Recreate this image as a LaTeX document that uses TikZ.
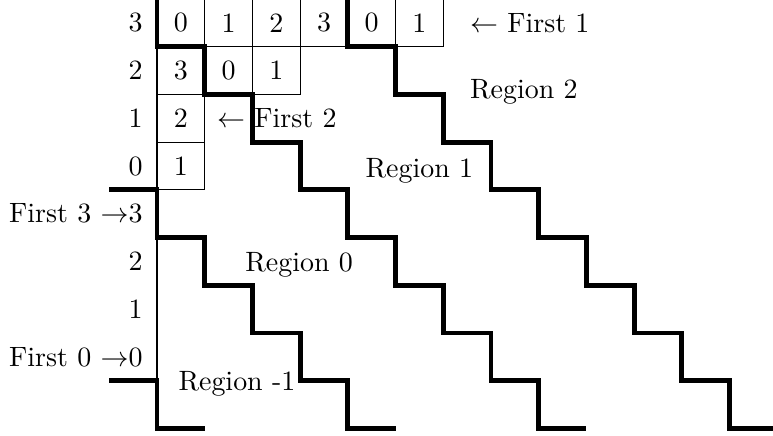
\documentclass[tikz,border=0pt]{standalone}
\begin{document}
\begin{tikzpicture}[x=0.6cm,y=0.6cm,
  cell/.style={draw,line width=0.4pt,minimum size=0.6cm,inner sep=0pt},
  stair/.style={line width=1.75pt},
  axisline/.style={line width=0.4pt},
  lab/.style={inner sep=0pt},
  rowlab/.style={inner sep=0pt,anchor=east},
  region/.style={inner sep=0pt,anchor=base west}]
\useasboundingbox (-3.29,-5.14) rectangle (12.91,3.98);
\clip (-3.29,-5.14) rectangle (12.91,3.98);
% top row cells
\node[cell] (t0) at (0.5,3.5) {0};
\node[cell] (t1) at (1.5,3.5) {1};
\node[cell] (t2) at (2.5,3.5) {2};
\node[cell] (t3) at (3.5,3.5) {3};
\node[cell] (t4) at (4.5,3.5) {0};
\node[cell] (t5) at (5.5,3.5) {1};
% second row
\node[cell] (s0) at (0.5,2.5) {3};
\node[cell] (s1) at (1.5,2.5) {0};
\node[cell] (s2) at (2.5,2.5) {1};
% third and fourth rows
\node[cell] (r0) at (0.5,1.5) {2};
\node[cell] (q0) at (0.5,0.5) {1};
% row labels
\node[rowlab] (l3) at (-0.29,3.5) {3};
\node[rowlab] (l2) at (-0.29,2.5) {2};
\node[rowlab] (l1) at (-0.29,1.5) {1};
\node[rowlab] (l0) at (-0.29,0.5) {0};
\node[rowlab] (m3) at (-0.29,-0.5) {First 3 $\rightarrow$3};
\node[rowlab] (m2) at (-0.29,-1.5) {2};
\node[rowlab] (m1) at (-0.29,-2.5) {1};
\node[rowlab] (m0) at (-0.29,-3.5) {First 0 $\rightarrow$0};
% annotations
\node[lab,anchor=west] (f1) at (6.55,3.5) {$\leftarrow$ First 1};
\node[lab,anchor=west] (f2) at (1.25,1.5) {$\leftarrow$ First 2};
% region labels
\node[region] (g2) at (6.55,1.91) {Region 2};
\node[region] (g1) at (4.36,0.25) {Region 1};
\node[region] (g0) at (1.84,-1.72) {Region 0};
\node[region] (gm) at (0.44,-4.2) {Region -1};
% thin axis
\draw[axisline] (0,-1) -- (0,-4);
% staircases
\draw[stair] (0,4.5) -- (0,3) -- (1,3) -- (1,2) -- (2,2) -- (2,1) -- (3,1) -- (3,0)
  -- (4,0) -- (4,-1) -- (5,-1) -- (5,-2) -- (6,-2) -- (6,-3) -- (7,-3) -- (7,-4)
  -- (8,-4) -- (8,-5) -- (9,-5);
\draw[stair] (4,4.5) -- (4,3) -- (5,3) -- (5,2) -- (6,2) -- (6,1) -- (7,1) -- (7,0)
  -- (8,0) -- (8,-1) -- (9,-1) -- (9,-2) -- (10,-2) -- (10,-3) -- (11,-3) -- (11,-4)
  -- (12,-4) -- (12,-5) -- (13.5,-5);
\draw[stair] (-1,0) -- (0,0) -- (0,-1) -- (1,-1) -- (1,-2) -- (2,-2) -- (2,-3)
  -- (3,-3) -- (3,-4) -- (4,-4) -- (4,-5) -- (5,-5);
\draw[stair] (-1,-4) -- (0,-4) -- (0,-5) -- (1,-5);
\end{tikzpicture}
\end{document}
